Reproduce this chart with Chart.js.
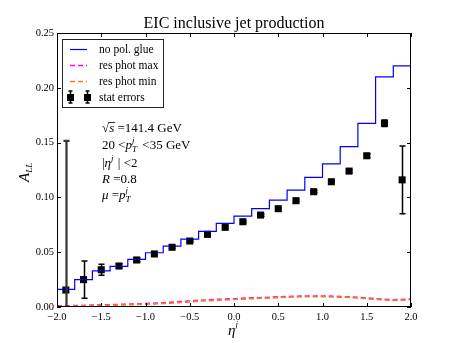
<!DOCTYPE html>
<html>
<head>
<meta charset="utf-8">
<script src="https://cdn.jsdelivr.net/npm/chart.js@4/dist/chart.umd.min.js"></script>
<style>
  html, body { margin: 0; padding: 0; background: #fff; }
  #wrap { width: 457px; height: 343px; }
</style>
</head>
<body>
<div id="wrap"><canvas id="chart" width="457" height="343"></canvas></div>
<script>
// eta bin edges and centres
const etaEdges = [-2.0, -1.8, -1.6, -1.4, -1.2, -1.0, -0.8, -0.6, -0.4, -0.2, 0.0,
                  0.2, 0.4, 0.6, 0.8, 1.0, 1.2, 1.4, 1.6, 1.8, 2.0];
const etaCenters = [-1.9, -1.7, -1.5, -1.3, -1.1, -0.9, -0.7, -0.5, -0.3, -0.1,
                    0.1, 0.3, 0.5, 0.7, 0.9, 1.1, 1.3, 1.5, 1.7, 1.9];

// A_LL per bin (step histogram)
const noPolGlue = [0.016, 0.025, 0.033, 0.037, 0.0435, 0.0495, 0.0556, 0.062, 0.069, 0.0763,
                   0.083, 0.0897, 0.0976, 0.1067, 0.1183, 0.1305, 0.1463, 0.1676, 0.210, 0.220];

// resolved photon contributions, at bin edges
const resPhotMax = [0.0008, 0.0012, 0.0016, 0.0020, 0.0025, 0.0030, 0.0038, 0.0048, 0.0060, 0.0068, 0.0075,
                    0.0082, 0.0088, 0.0095, 0.0100, 0.0100, 0.0095, 0.0088, 0.0075, 0.0065, 0.0072];
const resPhotMin = [0.0004, 0.0008, 0.0012, 0.0016, 0.0021, 0.0026, 0.0033, 0.0042, 0.0054, 0.0062, 0.0070,
                    0.0077, 0.0083, 0.0090, 0.0095, 0.0096, 0.0091, 0.0084, 0.0070, 0.0060, 0.0068];

// pseudo data with stat errors at bin centres
const statValues = [0.0155, 0.025, 0.034, 0.0374, 0.0429, 0.0484, 0.0545, 0.0602, 0.0663, 0.0727,
                    0.0778, 0.0839, 0.0897, 0.097, 0.1052, 0.1143, 0.124, 0.138, 0.1676, 0.116];
const statErrors = [0.136, 0.017, 0.005, 0.002, 0.0015, 0.001, 0.001, 0.001, 0.001, 0.001,
                    0.001, 0.001, 0.001, 0.001, 0.001, 0.001, 0.0012, 0.0015, 0.003, 0.031];

const xTicks = [-2.0, -1.5, -1.0, -0.5, 0.0, 0.5, 1.0, 1.5, 2.0];
const yTicks = [0.00, 0.05, 0.10, 0.15, 0.20, 0.25];

const SERIF = '"Liberation Serif", "DejaVu Serif", serif';

const stepPoints = etaEdges.map((x, i) => ({ x: x, y: noPolGlue[Math.min(i, noPolGlue.length - 1)] }));

function fmtMinus(v, d) {
    const s = Math.abs(v).toFixed(d);
    return (v < -1e-9 ? '\u2212' : '') + s;
}

// draws a run of [text, font, dy] pieces
function drawRuns(ctx, x, y, runs) {
    let cx = x;
    runs.forEach(r => {
        ctx.font = r[1];
        ctx.fillText(r[0], cx, y + (r[2] || 0));
        if (r[3] !== 'noadv') cx += ctx.measureText(r[0]).width;
    });
    return cx;
}

const errorBars = {
    id: 'errorBars',
    afterDatasetsDraw(chart) {
        const { ctx, chartArea, scales } = chart;
        ctx.save();
        ctx.beginPath();
        ctx.rect(chartArea.left, chartArea.top, chartArea.right - chartArea.left, chartArea.bottom - chartArea.top);
        ctx.clip();
        etaCenters.forEach((x, i) => {
            const px = Math.round(scales.x.getPixelForValue(x)) + 0.5;
            const top = scales.y.getPixelForValue(statValues[i] + statErrors[i]);
            const bot = scales.y.getPixelForValue(statValues[i] - statErrors[i]);
            ctx.strokeStyle = i === 0 ? '#333' : '#000';
            ctx.lineWidth = i === 0 ? 2.2 : 1.5;
            ctx.beginPath();
            ctx.moveTo(px, top); ctx.lineTo(px, bot);
            ctx.moveTo(px - 3, top); ctx.lineTo(px + 3, top);
            ctx.moveTo(px - 3, bot); ctx.lineTo(px + 3, bot);
            ctx.stroke();
        });
        ctx.restore();
    }
};

const decorations = {
    id: 'decorations',
    afterDraw(chart) {
        const { ctx, chartArea: a, scales } = chart;
        ctx.save();
        // frame
        ctx.strokeStyle = '#000';
        ctx.lineWidth = 1;
        ctx.strokeRect(a.left + 0.5, a.top + 0.5, a.right - a.left - 1, a.bottom - a.top - 1);
        // inward ticks on all sides
        ctx.beginPath();
        xTicks.forEach(v => {
            const px = Math.round(scales.x.getPixelForValue(v)) + 0.5;
            ctx.moveTo(px, a.bottom); ctx.lineTo(px, a.bottom - 4);
            ctx.moveTo(px, a.top); ctx.lineTo(px, a.top + 4);
        });
        yTicks.forEach(v => {
            const py = Math.round(scales.y.getPixelForValue(v)) + 0.5;
            ctx.moveTo(a.left, py); ctx.lineTo(a.left + 4, py);
            ctx.moveTo(a.right, py); ctx.lineTo(a.right - 4, py);
        });
        ctx.stroke();

        ctx.fillStyle = '#000';
        ctx.textBaseline = 'alphabetic';
        // title
        ctx.font = '16px ' + SERIF;
        ctx.textAlign = 'center';
        ctx.fillText('EIC inclusive jet production', (a.left + a.right) / 2, 28);
        ctx.textAlign = 'left';

        // x axis label
        const ix = (a.left + a.right) / 2 - 6;
        drawRuns(ctx, ix, 335, [['\u03b7', 'italic 15px ' + SERIF], ['j', 'italic 9px ' + SERIF, -8]]);

        // y axis label
        ctx.save();
        ctx.translate(29, (a.top + a.bottom) / 2 + 12);
        ctx.rotate(-Math.PI / 2);
        drawRuns(ctx, 0, 0, [['A', 'italic 15px ' + SERIF], ['LL', 'italic 9px ' + SERIF, 3]]);
        ctx.restore();

        // annotations
        const f = '13px ' + SERIF, fi = 'italic 13px ' + SERIF, fs = 'italic 9px ' + SERIF;
        let x0 = 102;
        // sqrt(s)
        ctx.font = f;
        ctx.fillText('\u221a', x0, 132);
        const sx = x0 + ctx.measureText('\u221a').width;
        ctx.font = fi;
        ctx.fillText('s', sx, 132);
        const sw = ctx.measureText('s').width;
        ctx.beginPath();
        ctx.lineWidth = 0.8;
        ctx.moveTo(sx - 0.5, 122.5); ctx.lineTo(sx + sw + 1, 122.5);
        ctx.stroke();
        ctx.font = f;
        ctx.fillText(' =141.4 GeV', sx + sw, 132);

        let cx = drawRuns(ctx, x0, 149, [['20 <', f], ['p', fi]]);
        drawRuns(ctx, cx, 149, [['j', fs, -6, 'noadv']]);
        cx = drawRuns(ctx, cx, 149, [['T', fs, 3]]);
        drawRuns(ctx, cx + 2, 149, [[' <35 GeV', f]]);

        cx = drawRuns(ctx, x0, 167, [['|', f], ['\u03b7', fi], ['j', fs, -6]]);
        drawRuns(ctx, cx + 1, 167, [[' | <2', f]]);

        drawRuns(ctx, x0, 183, [['R', fi], [' =0.8', f]]);

        cx = drawRuns(ctx, x0, 199, [['\u03bc', fi], [' =', f], ['p', fi]]);
        drawRuns(ctx, cx, 199, [['j', fs, -6, 'noadv']]);
        drawRuns(ctx, cx, 199, [['T', fs, 3]]);

        // legend
        ctx.fillStyle = '#fff';
        ctx.fillRect(62, 39, 101, 68);
        ctx.strokeStyle = '#222';
        ctx.lineWidth = 1;
        ctx.strokeRect(62.5, 39.5, 101, 68);
        const rows = [49, 65, 81, 97];
        const labels = ['no pol. glue', 'res phot max', 'res phot min', 'stat errors'];
        ctx.lineWidth = 1.2;
        ctx.strokeStyle = 'blue';
        ctx.beginPath(); ctx.moveTo(70, rows[0] + 0.5); ctx.lineTo(87, rows[0] + 0.5); ctx.stroke();
        ctx.lineWidth = 1.6;
        ctx.setLineDash([5, 3]);
        ctx.strokeStyle = '#ff00ff';
        ctx.beginPath(); ctx.moveTo(70, rows[1] + 0.5); ctx.lineTo(87, rows[1] + 0.5); ctx.stroke();
        ctx.strokeStyle = '#f07a28';
        ctx.beginPath(); ctx.moveTo(70, rows[2] + 0.5); ctx.lineTo(87, rows[2] + 0.5); ctx.stroke();
        ctx.setLineDash([]);
        ctx.strokeStyle = '#000';
        ctx.fillStyle = '#000';
        ctx.lineWidth = 1.5;
        [70.5, 87.5].forEach(px => {
            ctx.beginPath();
            ctx.moveTo(px, rows[3] - 6); ctx.lineTo(px, rows[3] + 6);
            ctx.moveTo(px - 2, rows[3] - 6); ctx.lineTo(px + 2, rows[3] - 6);
            ctx.moveTo(px - 2, rows[3] + 6); ctx.lineTo(px + 2, rows[3] + 6);
            ctx.stroke();
            ctx.fillRect(px - 3.5, rows[3] - 3, 7, 7);
        });
        ctx.font = '11.5px ' + SERIF;
        ctx.textBaseline = 'middle';
        labels.forEach((t, i) => ctx.fillText(t, 99, rows[i] + 1));
        ctx.restore();
    }
};

new Chart(document.getElementById('chart'), {
    type: 'line',
    data: {
        datasets: [
            {
                label: 'no pol. glue',
                data: stepPoints,
                stepped: 'before',
                borderColor: 'blue',
                borderWidth: 1.2,
                pointRadius: 0,
                fill: false
            },
            {
                label: 'res phot min',
                data: etaEdges.map((x, i) => ({ x: x, y: resPhotMin[i] })),
                borderColor: '#f07a28',
                borderDash: [5, 3],
                borderWidth: 1.8,
                pointRadius: 0,
                fill: false
            },
            {
                label: 'res phot max',
                data: etaEdges.map((x, i) => ({ x: x, y: resPhotMax[i] })),
                borderColor: '#ff00ff',
                borderDash: [5, 3],
                borderWidth: 1.8,
                pointRadius: 0,
                fill: false
            },
            {
                label: 'stat errors',
                type: 'scatter',
                data: etaCenters.map((x, i) => ({ x: x, y: statValues[i] })),
                pointStyle: 'rect',
                pointRadius: 5,
                backgroundColor: '#000',
                borderColor: '#000',
                borderWidth: 0,
                showLine: false
            }
        ]
    },
    options: {
        responsive: false,
        animation: false,
        layout: { padding: { left: 0, right: 46, top: 33, bottom: 0 } },
        scales: {
            x: {
                type: 'linear',
                min: -2, max: 2,
                grid: { display: false, drawTicks: false },
                border: { display: false },
                afterFit: s => { s.height = 36; },
                afterBuildTicks: s => { s.ticks = xTicks.map(v => ({ value: v })); },
                ticks: {
                    color: '#000',
                    padding: 4,
                    maxRotation: 0,
                    font: { family: SERIF, size: 10.5 },
                    callback: v => fmtMinus(v, 1)
                }
            },
            y: {
                min: 0, max: 0.25,
                grid: { display: false, drawTicks: false },
                border: { display: false },
                afterFit: s => { s.width = 57; },
                afterBuildTicks: s => { s.ticks = yTicks.map(v => ({ value: v })); },
                ticks: {
                    color: '#000',
                    padding: 3,
                    font: { family: SERIF, size: 10.5 },
                    callback: v => fmtMinus(v, 2)
                }
            }
        },
        plugins: {
            legend: { display: false },
            tooltip: { enabled: false }
        }
    },
    plugins: [errorBars, decorations]
});
</script>
</body>
</html>
